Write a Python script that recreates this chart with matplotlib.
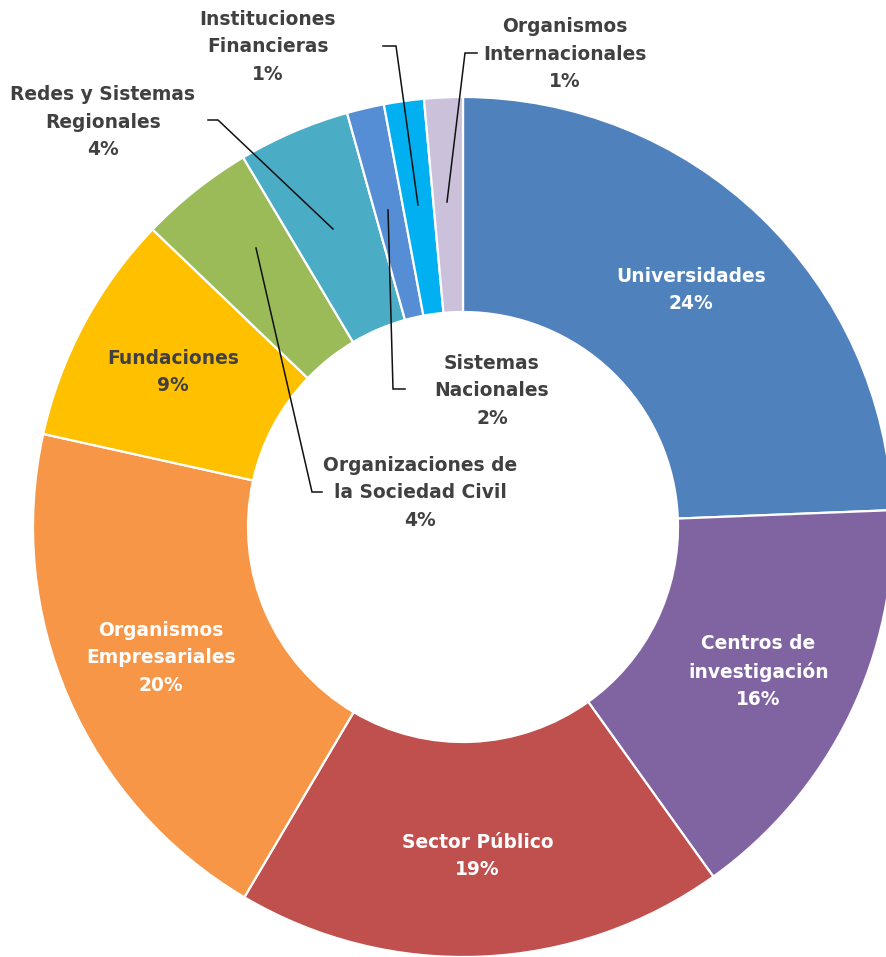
import numpy as np
import matplotlib
matplotlib.use("Agg")
import matplotlib.pyplot as plt

# ---- data ----
categories = ["Universidades", "Centros de\ninvestigación", "Sector Público",
              "Organismos\nEmpresariales", "Fundaciones",
              "Organizaciones de\nla Sociedad Civil", "Redes y Sistemas\nRegionales",
              "Sistemas\nNacionales", "Instituciones\nFinancieras",
              "Organismos\nInternacionales"]
values = [24.4, 15.75, 18.4, 20.0, 8.7, 4.3, 4.2, 1.4, 1.5, 1.45]
pct_labels = ["24%", "16%", "19%", "20%", "9%", "4%", "4%", "2%", "1%", "1%"]
colors = ["#4F81BD", "#8064A2", "#C0504D", "#F79646", "#FFC000",
          "#9BBB59", "#4BACC6", "#558ED5", "#00B0F0", "#CCC1DA"]

W, H = 887, 957
fig = plt.figure(figsize=(W / 100, H / 100), dpi=100)
ax = fig.add_axes([0, 0, 1, 1])

def P(x, y):
    """image pixel coords (y down) -> data coords"""
    return x, H - y

cx, cy = P(463, 527)
R = 430
wedges, _ = ax.pie(values, startangle=90, counterclock=False, colors=colors,
                   radius=R, center=(cx, cy),
                   wedgeprops=dict(width=R * 0.5, edgecolor="white", linewidth=1.6))
ax.set_xlim(0, W)
ax.set_ylim(0, H)
ax.set_aspect("equal")
ax.axis("off")

font = dict(family="DejaVu Sans", fontweight="bold", fontsize=13.4, linespacing=1.55)
dark = "#404040"

# labels inside wedges
inside = {0: "white", 1: "white", 2: "white", 3: "white", 4: dark}
for i, col in inside.items():
    w = wedges[i]
    ang = np.deg2rad((w.theta1 + w.theta2) / 2)
    r = R * 0.765
    x = cx + r * np.cos(ang)
    y = cy + r * np.sin(ang)
    ax.text(x, y, categories[i] + "\n" + pct_labels[i], color=col,
            ha="center", va="center", **font)

# labels outside / in the hole, with leader lines
outside = {
    5: ((420, 493), [(322, 492), (312, 492), (256, 248)]),
    6: ((103, 122), [(208, 120), (218, 120), (333, 229)]),
    7: ((492, 391), [(405, 389), (393, 389), (388, 210)]),
    8: ((268, 47), [(383, 46), (396, 46), (418, 205)]),
    9: ((565, 54), [(477, 53), (465, 53), (447, 202)]),
}
for i, (pos, line) in outside.items():
    tx, ty = P(*pos)
    ax.text(tx, ty, categories[i] + "\n" + pct_labels[i], color=dark,
            ha="center", va="center", **font)
    xs = [p[0] for p in line]
    ys = [H - p[1] for p in line]
    ax.plot(xs, ys, color="#111111", linewidth=1.1, solid_joinstyle="miter")

fig.savefig("out.png", dpi=100)
